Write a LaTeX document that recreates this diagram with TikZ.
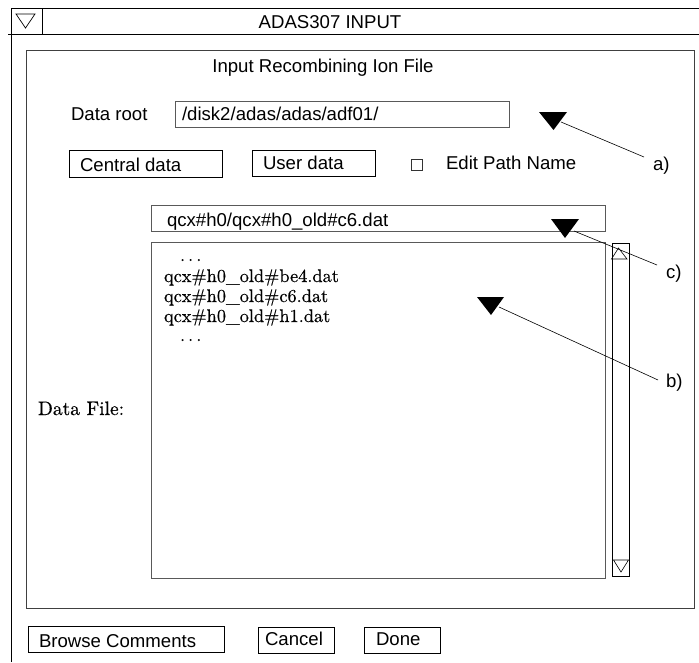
\documentclass[tikz,border=0pt]{standalone}
\usepackage{fontspec}
\newfontfamily\uif{Liberation Sans}
\newfontfamily\lmdark{lmroman10-regular}[Extension=.otf,FakeBold=0.5]
\begin{document}
\begin{tikzpicture}[x=1pt,y=-1pt,
  every node/.style={inner sep=0pt,outer sep=0pt},
  ui/.style={font=\uif\fontsize{18.6}{21}\selectfont},
  lm/.style={font=\lmdark\fontsize{18.3}{21}\selectfont},
  frame/.style={draw=black!75,line width=0.9pt},
  chrome/.style={draw=black,line width=0.8pt},
  field/.style={draw=black!65,line width=1pt},
  btn/.style={draw=black,line width=0.8pt},
  lead/.style={draw=black,line width=0.6pt},
  pointer/.style={fill=black}]
\useasboundingbox (0,0) rectangle (699,662);

% window chrome
\coordinate (wtl) at (11.5,8);
\coordinate (wtr) at (699,8);
\coordinate (wbl) at (11.5,662);
\draw[chrome] (wtr) -- (wtl) -- (wbl);
\coordinate (tbl) at (8,34);
\coordinate (tbr) at (699,34);
\draw[chrome] (tbl) -- (tbr);
\coordinate (dvt) at (42,8);
\coordinate (dvb) at (42,34);
\draw[chrome] (dvt) -- (dvb);
\draw[line width=0.7pt] (16,14) -- (35,14) -- (25.5,28) -- cycle;
\node[ui,anchor=base] (title) at (330,28) {ADAS307 INPUT};

% inner panel
\node[frame,anchor=north west,minimum width=668pt,minimum height=558pt] (panel) at (26,50) {};
\node[ui,anchor=base] (head) at (323,72) {Input Recombining Ion File};

% data root row
\node[ui,anchor=base west] (rootlbl) at (71,120) {Data root};
\node[field,anchor=north west,minimum width=334pt,minimum height=26pt] (rootfld) at (175,101) {};
\node[ui,anchor=base west] (roottxt) at (182,120) {/disk2/adas/adas/adf01/};

% selector row
\node[btn,anchor=north west,minimum width=153pt,minimum height=27pt] (central) at (69,150) {};
\node[ui,anchor=base west] (centraltxt) at (80,171) {Central data};
\node[btn,anchor=north west,minimum width=123pt,minimum height=26pt] (user) at (252,150) {};
\node[ui,anchor=base west] (usertxt) at (263,169) {User data};
\node[draw=black!80,line width=0.7pt,minimum size=11pt,anchor=north west] (chk) at (411,159) {};
\node[ui,anchor=base west] (edittxt) at (446,169) {Edit Path Name};

% file selection
\node[field,anchor=north west,minimum width=454pt,minimum height=26pt] (filefld) at (151,205) {};
\node[ui,anchor=base west] (filetxt) at (167,226) {qcx\#h0/qcx\#h0\_old\#c6.dat};
\node[field,anchor=north west,minimum width=454pt,minimum height=336pt] (list) at (151,242) {};
\node[lm,anchor=base west] (l0) at (180,261) {.\,.\,.};
\node[lm,anchor=base west] (l1) at (164,282) {qcx\#h0\_old\#be4.dat};
\node[lm,anchor=base west] (l2) at (164,302) {qcx\#h0\_old\#c6.dat};
\node[lm,anchor=base west] (l3) at (164,322) {qcx\#h0\_old\#h1.dat};
\node[lm,anchor=base west] (l4) at (180,341) {.\,.\,.};
\node[font=\lmdark\fontsize{19.5}{22}\selectfont,anchor=base west] (dflbl) at (38,415) {Data File:};

% scroll bar
\node[btn,anchor=north west,minimum width=17pt,minimum height=333pt] (scroll) at (612,243) {};
\draw[line width=0.6pt] (611.5,259) -- (627,259) -- (618.5,248) -- cycle;
\draw[line width=0.6pt] (613.5,560) -- (628.5,560) -- (621,572) -- cycle;

% callout pointers and their leaders
\fill[pointer] (539,112) -- (567,112) -- (553.5,130) -- cycle;
\fill[pointer] (551,219) -- (579,219) -- (565,238) -- cycle;
\fill[pointer] (477,297) -- (504,297) -- (491,315) -- cycle;
\coordinate (pa) at (561,122);
\coordinate (pc) at (574,231);
\coordinate (pb) at (499,307);
\coordinate (ea) at (644,157);
\coordinate (ec) at (657,265);
\coordinate (eb) at (658,380);
\node[ui,anchor=base west] (la) at (653,170) {a)};
\node[ui,anchor=base west] (lc) at (666,278) {c)};
\node[ui,anchor=base west] (lb) at (666,387) {b)};
\draw[lead] (pa) -- (ea);
\draw[lead] (pc) -- (ec);
\draw[lead] (pb) -- (eb);

% action buttons
\node[btn,anchor=north west,minimum width=196pt,minimum height=26pt] (browse) at (28,626) {};
\node[ui,anchor=base west] (browsetxt) at (39,647) {Browse Comments};
\node[btn,anchor=north west,minimum width=76pt,minimum height=26pt] (cancel) at (258,627) {};
\node[ui,anchor=base west] (canceltxt) at (265,645) {Cancel};
\node[btn,anchor=north west,minimum width=76pt,minimum height=26pt] (done) at (364,627) {};
\node[ui,anchor=base west] (donetxt) at (376,645) {Done};
\end{tikzpicture}
\end{document}
